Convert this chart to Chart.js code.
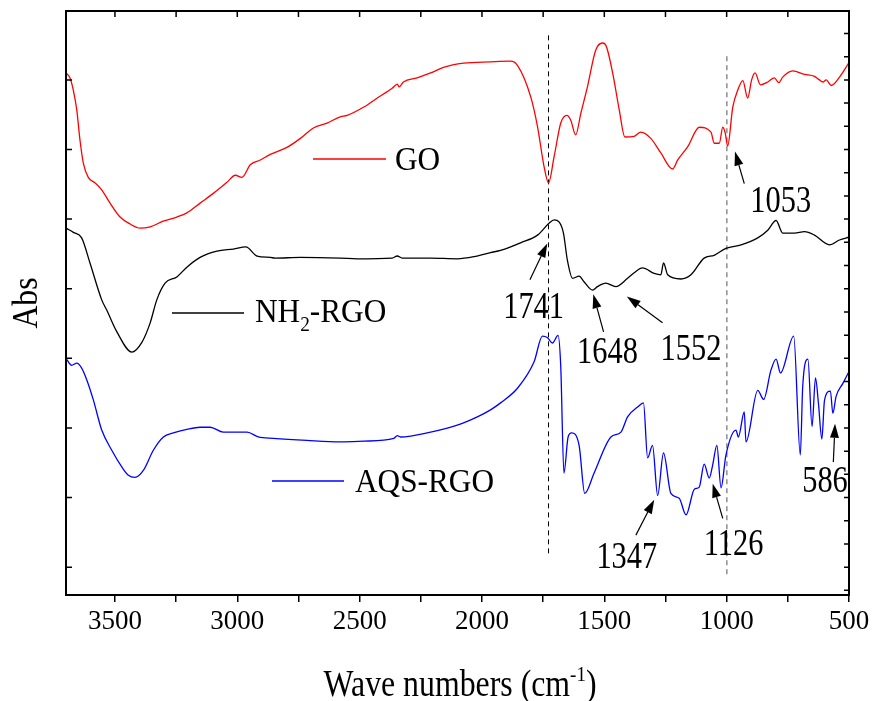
<!DOCTYPE html>
<html>
<head>
<meta charset="utf-8">
<script src="https://cdn.jsdelivr.net/npm/chart.js@4.4.1/dist/chart.umd.min.js"></script>
<style>
  body { margin: 0; background: #fff; }
  #wrap { width: 876px; height: 701px; }
</style>
</head>
<body>
<div id="wrap"><canvas id="ftirChart" width="876" height="701"></canvas></div>
<script>
// GO (red)
const goWn = [3700,3684,3670,3656,3643,3629,3609,3581,3554,3520,3479,3438,3397,3356,3303,3247,3206,3152,3098,3042,
  3008,2981,2947,2906,2865,2797,2742,2689,2633,2579,2551,2483,2428,2367,2346,2339,2321,2265,2210,2157,
  2075,1965,1883,1855,1801,1773,1746,1728,1705,1678,1653,1637,1617,1596,1569,1535,1507,1494,1466,1439,
  1416,1378,1351,1310,1269,1221,1200,1159,1112,1064,1051,1030,1016,1006,996,975,955,934,914,898,
  884,862,832,805,787,771,730,682,641,621,607,593,573,539,500];
const goAbs = [7.10,7.03,6.85,6.57,6.14,5.80,5.60,5.52,5.42,5.23,5.03,4.93,4.87,4.89,4.97,5.03,5.09,5.23,5.37,5.53,
  5.63,5.60,5.78,5.85,5.93,6.03,6.16,6.31,6.38,6.47,6.49,6.61,6.74,6.88,6.94,6.90,6.97,7.03,7.10,7.18,
  7.24,7.26,7.27,7.21,6.76,6.33,5.75,5.52,5.90,6.38,6.49,6.42,6.21,6.52,6.90,7.43,7.53,7.50,7.10,6.57,
  6.18,6.19,6.25,6.16,5.95,5.72,5.85,6.04,6.32,6.25,6.09,6.09,6.32,6.24,6.05,6.61,6.85,6.99,6.74,7.00,
  7.10,6.93,6.97,7.03,6.96,7.04,7.13,7.08,7.05,7.00,6.97,7.00,6.92,7.04,7.25];

// NH2-RGO (black)
const nhWn = [3700,3670,3636,3602,3554,3533,3492,3431,3390,3356,3329,3295,3247,3206,3152,3083,3016,2965,2919,2865,
  2845,2742,2579,2510,2367,2346,2326,2210,2101,2033,1965,1924,1842,1773,1726,1705,1685,1667,1651,1630,
  1603,1583,1548,1528,1494,1453,1405,1378,1344,1296,1269,1258,1241,1187,1146,1092,1051,1003,941,873,
  832,798,771,723,682,641,580,539,500];
const nhAbs = [4.87,4.81,4.73,4.37,3.84,3.69,3.38,3.09,3.23,3.51,3.84,4.08,4.17,4.31,4.45,4.54,4.57,4.60,4.47,4.45,
  4.44,4.45,4.44,4.43,4.44,4.47,4.44,4.44,4.43,4.46,4.52,4.55,4.66,4.77,4.94,4.99,4.96,4.80,4.41,4.15,
  4.18,4.10,3.98,4.03,4.08,4.03,4.15,4.23,4.30,4.22,4.20,4.37,4.20,4.14,4.20,4.44,4.48,4.58,4.63,4.73,
  4.84,4.98,4.80,4.80,4.82,4.77,4.63,4.70,4.74];

// AQS-RGO (blue)
const aqWn = [3700,3677,3656,3636,3615,3588,3554,3513,3472,3445,3418,3384,3343,3302,3261,3206,3152,3111,3057,2960,
  2914,2853,2715,2579,2483,2360,2346,2333,2210,2101,2019,1965,1924,1855,1787,1753,1733,1712,1689,1678,
  1665,1648,1634,1603,1580,1542,1473,1432,1405,1364,1340,1323,1303,1282,1258,1228,1194,1166,1132,1112,
  1092,1071,1057,1040,1023,1003,962,952,928,921,873,849,819,798,780,726,699,689,668,651,
  637,625,611,600,576,566,553,525,500];
const aqAbs = [3.00,2.90,2.93,2.86,2.69,2.40,1.97,1.68,1.44,1.32,1.29,1.39,1.68,1.87,1.93,1.98,2.01,2.01,1.94,1.94,
  1.87,1.85,1.82,1.80,1.81,1.85,1.89,1.87,1.94,2.04,2.16,2.26,2.36,2.57,2.95,3.32,3.30,3.22,3.33,2.88,
  1.35,1.87,1.93,1.75,1.06,1.35,1.87,1.94,2.16,2.30,2.36,1.57,1.75,1.03,1.64,1.06,0.99,0.75,1.12,1.15,
  1.48,1.28,1.47,1.75,1.14,1.61,1.97,1.87,2.23,1.80,2.54,2.41,2.83,2.99,2.79,3.32,1.61,2.61,2.99,2.02,
  2.72,2.36,1.84,2.40,2.53,2.21,2.45,2.64,2.81];

// axis ticks
const xTickValues = [3500,3250,3000,2750,2500,2250,2000,1750,1500,1250,1000,750,500];
const xTickLabels = ['3500','','3000','','2500','','2000','','1500','','1000','','500'];
const yTickValues = [0,1,2,3,4,5,6,7];

// dashed guide lines (wavenumber, top, bottom)
const guideWn = [1728, 999];
const guideTop = [7.64, 7.34];
const guideBottom = [0.14, -0.14];

// peak labels: text, label anchor, arrow tail -> arrow tip (data units)
const peakText = ['1741', '1053', '1648', '1552', '1347', '1126', '586'];
const peakLabelWn = [1789, 779, 1487, 1146, 1408, 972, 598];
const peakLabelAbs = [3.58, 5.10, 2.93, 2.97, -0.01, 0.17, 1.08];
const arrowFrom = [[1804, 4.13], [928, 5.51], [1503, 3.38], [1262, 3.51], [1371, 0.46], [1016, 0.70], [564, 1.51]];
const arrowTo = [[1733, 4.65], [966, 5.97], [1545, 3.92], [1408, 3.89], [1296, 0.97], [1057, 1.20], [557, 2.06]];

const serif = "'Liberation Serif', 'Times New Roman', serif";

const toPoints = (xs, ys) => xs.map((v, i) => ({ x: v, y: ys[i] }));

function narrowText(ctx, text, x, y, size, sx, align) {
  ctx.save();
  ctx.font = size + 'px ' + serif;
  ctx.textBaseline = 'alphabetic';
  const w = ctx.measureText(text).width * sx;
  let left = x;
  if (align === 'center') left = x - w / 2;
  ctx.translate(left, y);
  ctx.scale(sx, 1);
  ctx.textAlign = 'left';
  ctx.fillText(text, 0, 0);
  ctx.restore();
  return w;
}

// parts: [text, shift, sizeFactor]
function richText(ctx, parts, x, y, size, sx, align) {
  ctx.save();
  let total = 0;
  parts.forEach(p => {
    ctx.font = Math.round(size * (p[2] || 1)) + 'px ' + serif;
    total += ctx.measureText(p[0]).width * sx;
  });
  ctx.restore();
  let cx = align === 'center' ? x - total / 2 : x;
  parts.forEach(p => {
    cx += narrowText(ctx, p[0], cx, y + (p[1] || 0), Math.round(size * (p[2] || 1)), sx, 'left');
  });
}

function arrow(ctx, x1, y1, x2, y2) {
  const ang = Math.atan2(y2 - y1, x2 - x1);
  const len = 14, hw = 4.5;
  const bx = x2 - len * Math.cos(ang), by = y2 - len * Math.sin(ang);
  ctx.beginPath();
  ctx.moveTo(x1, y1);
  ctx.lineTo(bx, by);
  ctx.stroke();
  ctx.beginPath();
  ctx.moveTo(x2, y2);
  ctx.lineTo(bx + hw * Math.sin(ang), by - hw * Math.cos(ang));
  ctx.lineTo(bx - hw * Math.sin(ang), by + hw * Math.cos(ang));
  ctx.closePath();
  ctx.fill();
}

const decorPlugin = {
  id: 'decor',
  afterDraw(chart) {
    const { ctx, chartArea: a, scales: { x, y } } = chart;
    ctx.save();
    ctx.strokeStyle = '#000';
    ctx.fillStyle = '#000';

    // frame
    ctx.lineWidth = 2;
    ctx.strokeRect(a.left, a.top, a.right - a.left, a.bottom - a.top);

    // inward ticks: top, left, right minor
    ctx.lineWidth = 1.5;
    ctx.beginPath();
    xTickValues.forEach(v => {
      const px = x.getPixelForValue(v);
      ctx.moveTo(px, a.top);
      ctx.lineTo(px, a.top + 6);
    });
    yTickValues.forEach(v => {
      const py = y.getPixelForValue(v);
      ctx.moveTo(a.left, py);
      ctx.lineTo(a.left + 6, py);
    });
    for (let k = -3; k <= 27; k++) {
      const v = k / 3;
      if (v <= y.min || v >= y.max) continue;
      const py = y.getPixelForValue(v);
      ctx.moveTo(a.right, py);
      ctx.lineTo(a.right - 5, py);
    }
    ctx.stroke();

    // peak arrows and labels
    ctx.lineWidth = 1.2;
    peakText.forEach((txt, i) => {
      arrow(ctx,
        x.getPixelForValue(arrowFrom[i][0]), y.getPixelForValue(arrowFrom[i][1]),
        x.getPixelForValue(arrowTo[i][0]), y.getPixelForValue(arrowTo[i][1]));
      narrowText(ctx, txt, x.getPixelForValue(peakLabelWn[i]), y.getPixelForValue(peakLabelAbs[i]), 38, 0.8, 'center');
    });

    // legend entries placed next to each curve
    const legend = [
      { color: '#ff0000', x0: 313, x1: 386, ly: 159, tx: 395, ty: 170, parts: [['GO']] },
      { color: '#000000', x0: 172, x1: 244, ly: 313, tx: 255, ty: 322, parts: [['NH'], ['2', 9, 0.62], ['-RGO']] },
      { color: '#0000ff', x0: 272, x1: 344, ly: 481, tx: 355, ty: 492, parts: [['AQS-RGO']] }
    ];
    legend.forEach(l => {
      ctx.strokeStyle = l.color;
      ctx.lineWidth = 1.3;
      ctx.beginPath();
      ctx.moveTo(l.x0, l.ly);
      ctx.lineTo(l.x1, l.ly);
      ctx.stroke();
      ctx.fillStyle = '#000';
      richText(ctx, l.parts, l.tx, l.ty, 34, 0.92, 'left');
    });

    // axis titles
    ctx.fillStyle = '#000';
    richText(ctx, [['Wave numbers (cm'], ['-1', -15, 0.6], [')']], 460, 696, 37, 0.86, 'center');
    ctx.save();
    ctx.translate(37, (a.top + a.bottom) / 2);
    ctx.rotate(-Math.PI / 2);
    narrowText(ctx, 'Abs', 0, 0, 36, 0.88, 'center');
    ctx.restore();

    ctx.restore();
  }
};

const lineStyle = { pointRadius: 0, borderWidth: 1.3, fill: false, cubicInterpolationMode: 'monotone' };

new Chart(document.getElementById('ftirChart'), {
  type: 'line',
  data: {
    datasets: [
      Object.assign({ label: 'GO', data: toPoints(goWn, goAbs), borderColor: '#ff0000' }, lineStyle),
      Object.assign({ label: 'NH2-RGO', data: toPoints(nhWn, nhAbs), borderColor: '#000000' }, lineStyle),
      Object.assign({ label: 'AQS-RGO', data: toPoints(aqWn, aqAbs), borderColor: '#0000ff' }, lineStyle),
      {
        label: 'guide 1', data: [{ x: guideWn[0], y: guideTop[0] }, { x: guideWn[0], y: guideBottom[0] }],
        borderColor: '#000', borderWidth: 1, borderDash: [5, 4], pointRadius: 0
      },
      {
        label: 'guide 2', data: [{ x: guideWn[1], y: guideTop[1] }, { x: guideWn[1], y: guideBottom[1] }],
        borderColor: '#555', borderWidth: 1, borderDash: [5, 4], pointRadius: 0
      }
    ]
  },
  options: {
    responsive: false,
    animation: false,
    devicePixelRatio: 1,
    layout: { padding: { top: 11, right: 27, left: 0, bottom: 0 } },
    plugins: {
      legend: { display: false },
      tooltip: { enabled: false },
      title: { display: false }
    },
    scales: {
      x: {
        type: 'linear',
        reverse: true,
        min: 500,
        max: 3700,
        afterBuildTicks: s => { s.ticks = xTickValues.map(v => ({ value: v })); },
        afterFit: s => { s.height = 106; },
        border: { display: true, color: '#000', width: 2 },
        grid: { display: true, drawOnChartArea: false, drawTicks: true, tickLength: 7, color: '#000', lineWidth: 1.5 },
        ticks: {
          autoSkip: false,
          maxRotation: 0,
          padding: 4,
          color: '#000',
          font: { family: serif, size: 27 },
          callback: (v, i) => xTickLabels[i]
        }
      },
      y: {
        min: -0.4,
        max: 7.99,
        afterFit: s => { s.width = 66; },
        border: { display: true, color: '#000', width: 2 },
        grid: { display: false },
        ticks: { display: false }
      }
    }
  },
  plugins: [decorPlugin]
});
</script>
</body>
</html>
